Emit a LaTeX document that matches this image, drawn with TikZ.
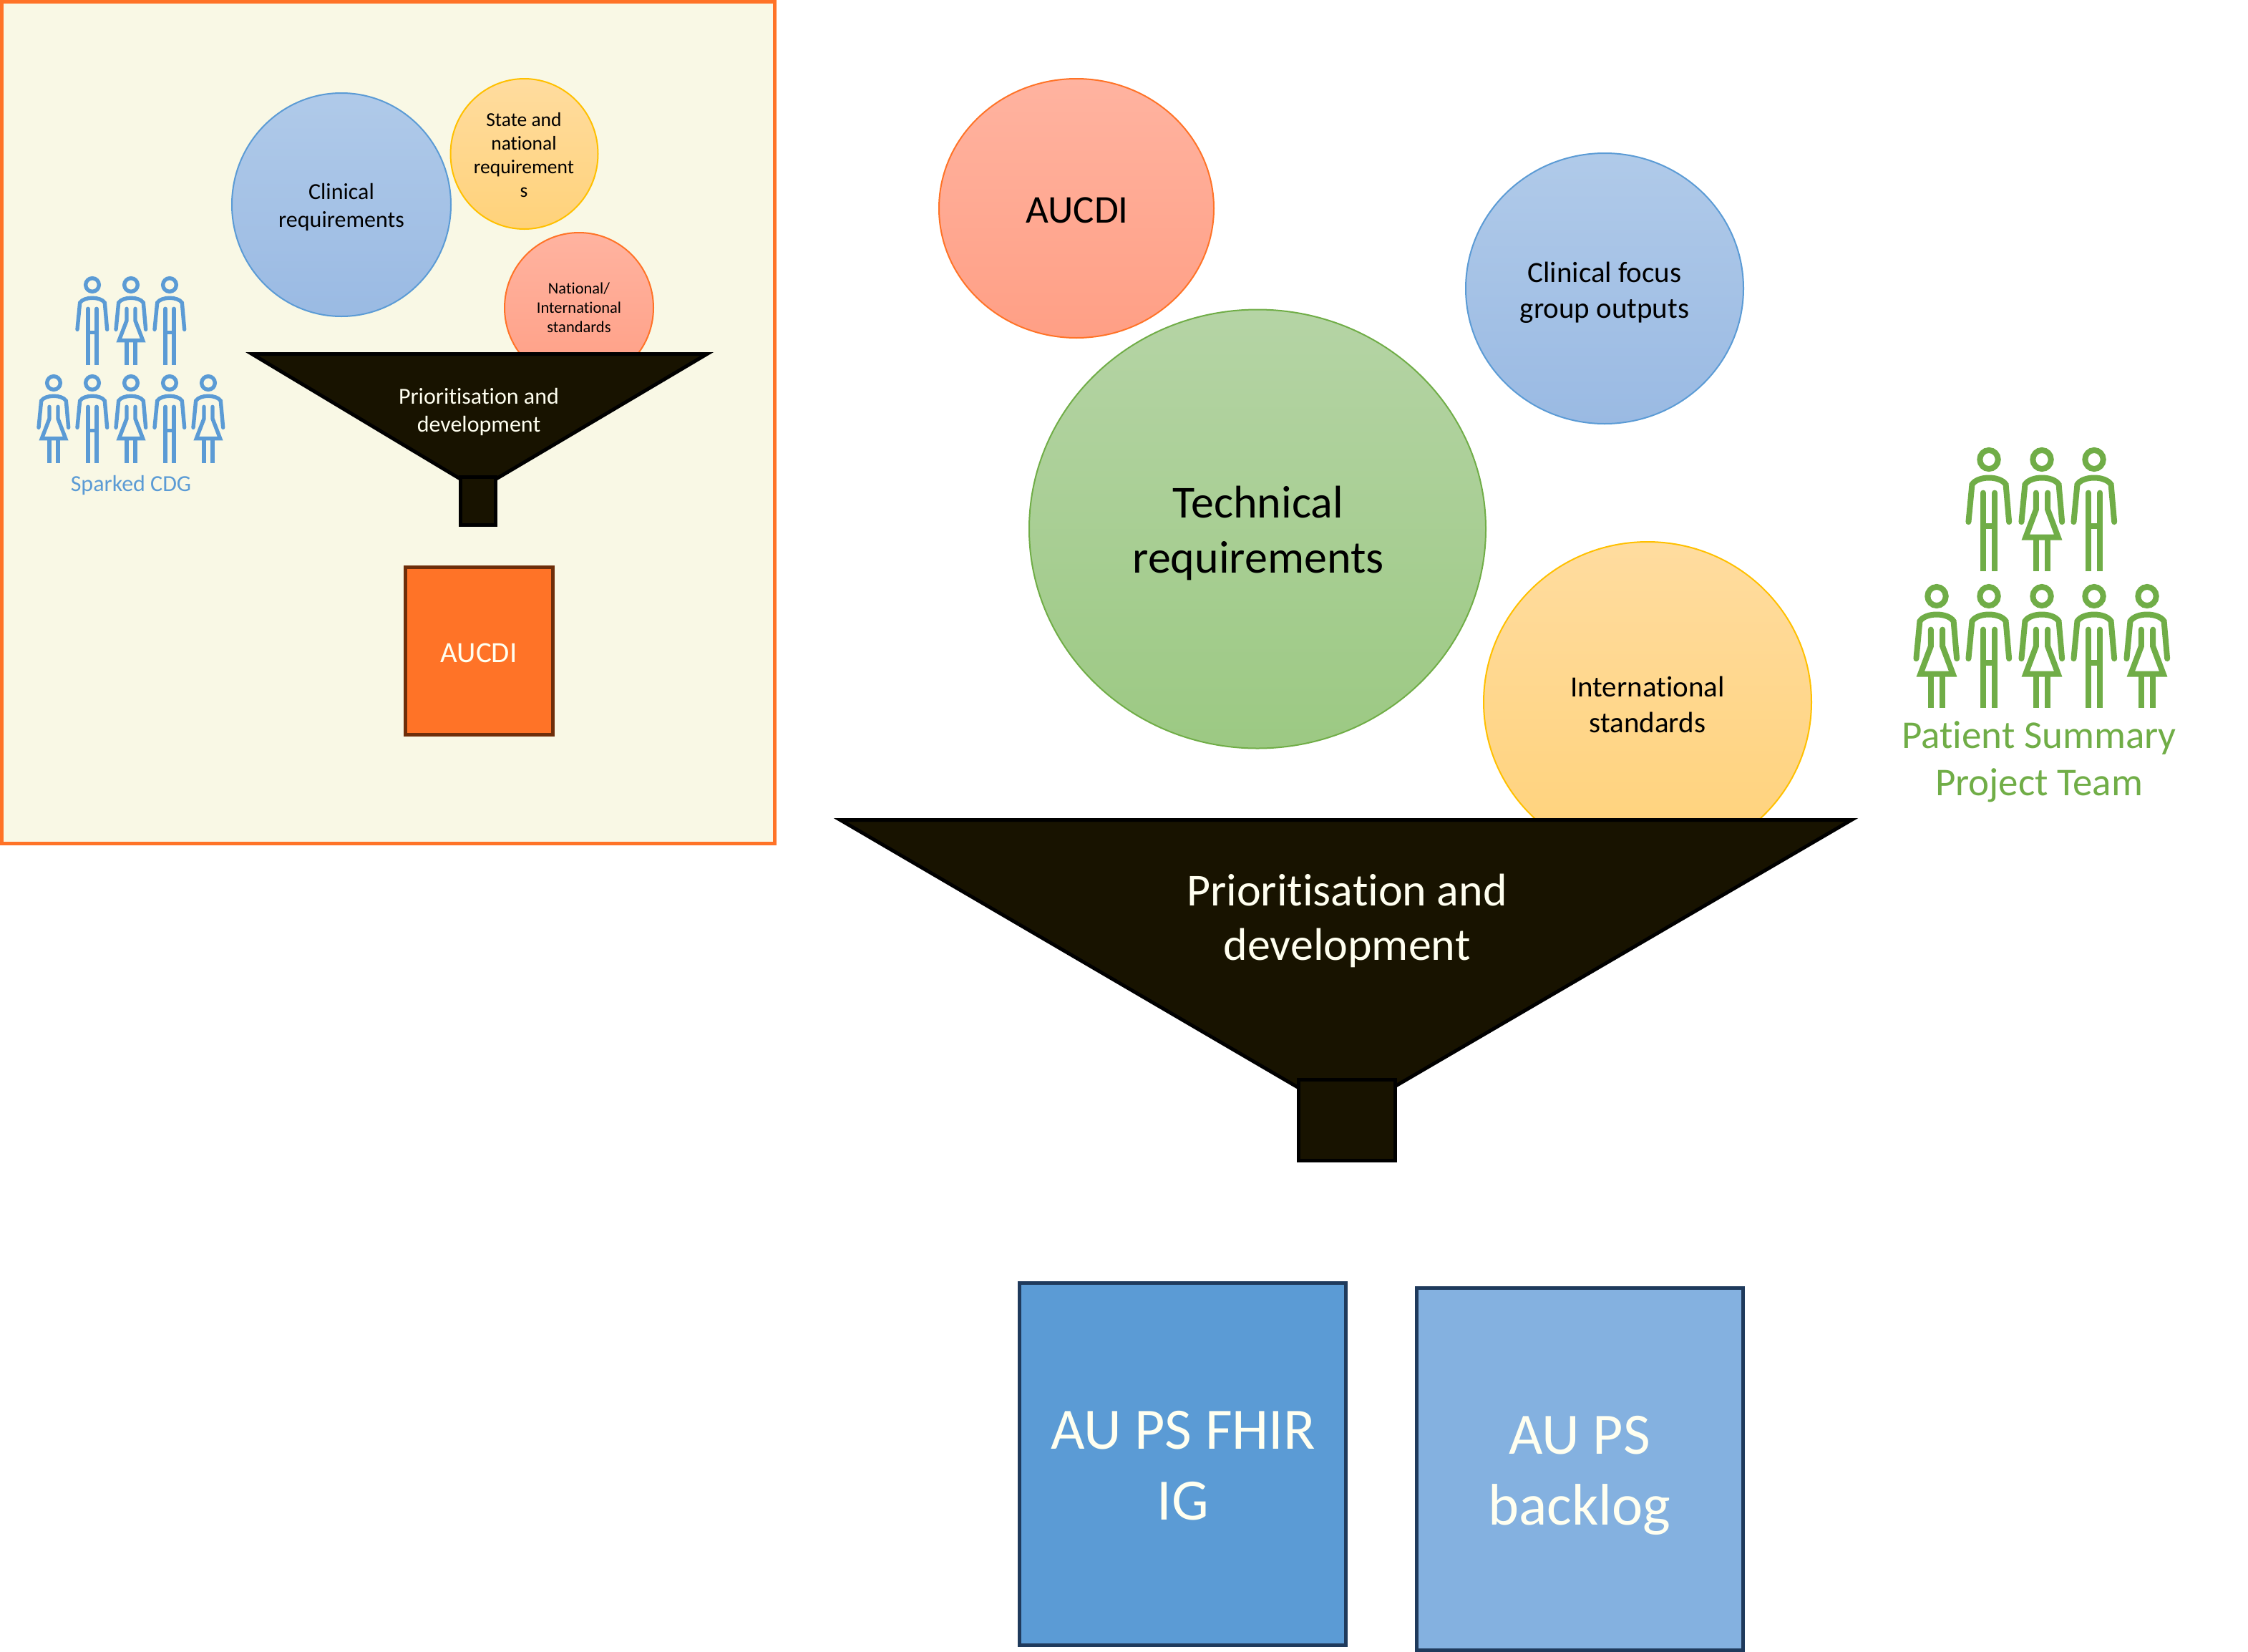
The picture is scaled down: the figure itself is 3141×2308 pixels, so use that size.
\documentclass[tikz,border=0pt]{standalone}
\usepackage{fontspec}
\setmainfont{Carlito}[Ligatures=NoCommon]
\usetikzlibrary{shapes.geometric}
\definecolor{panelfill}{HTML}{F9F8E5}
\definecolor{panelline}{HTML}{FF7327}
\definecolor{funnelfill}{HTML}{181300}
\definecolor{peopleblue}{HTML}{5B9BD5}
\definecolor{peoplegreen}{HTML}{70AD47}
\definecolor{cream}{HTML}{FFFFF0}
\definecolor{navy}{HTML}{1F3A5C}
\definecolor{brownline}{HTML}{6E2E0A}
\definecolor{bluetop}{HTML}{B0CAE9}
\definecolor{bluebot}{HTML}{9ABAE3}
\definecolor{redtop}{HTML}{FFB3A0}
\definecolor{redbot}{HTML}{FF9F85}
\definecolor{greentop}{HTML}{B5D4A5}
\definecolor{greenbot}{HTML}{9CC983}
\definecolor{yellowline}{HTML}{FFC000}
\definecolor{yellowtop}{HTML}{FFDC9F}
\definecolor{yellowbot}{HTML}{FFD27A}
\definecolor{lightbox}{HTML}{84B1E0}
\newcommand{\fs}[2]{\fontsize{#1}{#2}\selectfont}
\tikzset{
  x=1pt,y=-1pt,
  blob/.style={ellipse,inner sep=0pt,outer sep=0pt,line width=2pt},
  blobtext/.style={align=center,text=black,inner sep=0pt},
  blueblob/.style={blob,draw=peopleblue,top color=bluetop,bottom color=bluebot},
  redblob/.style={blob,draw=panelline,top color=redtop,bottom color=redbot},
  greenblob/.style={blob,draw=peoplegreen,top color=greentop,bottom color=greenbot},
  yellowblob/.style={blob,draw=yellowline,top color=yellowtop,bottom color=yellowbot},
  funnel/.style={fill=funnelfill,draw=black,line width=5pt,line join=miter},
  whitetext/.style={text=cream,align=center,inner sep=0pt},
  squarebox/.style={line width=5pt,rectangle,inner sep=0pt,outer sep=0pt},
  man/.pic={
    \draw[line cap=round] (0,0) circle[radius=28];
    \draw[line cap=round] (-63,187) -- (-52,75) .. controls (-35,48) and (35,48) .. (52,75) -- (62,187);
    \draw[line cap=round] (-18,100) -- (-18,200);
    \draw[line cap=round] (18,100) -- (18,200);
    \draw (-18,335) -- (-18,200) -- (18,200) -- (18,335);
  },
  woman/.pic={
    \draw[line cap=round] (0,0) circle[radius=28];
    \draw[line cap=round] (-63,187) -- (-52,75) .. controls (-35,48) and (35,48) .. (52,75) -- (62,187);
    \draw[line cap=round,line join=miter] (-18,100) -- (-18,150) -- (-50,233) -- (50,233) -- (18,150) -- (18,100);
    \draw (-18,233) -- (-18,335);
    \draw (18,233) -- (18,335);
  },
}
\begin{document}
\begin{tikzpicture}
\useasboundingbox (0,0) rectangle (3141,2308);
% panel
\draw[fill=panelfill,draw=panelline,line width=5pt] (2.5,2.5) rectangle (1082.5,1178.5);
% small blobs
\node[blueblob,minimum width=306pt,minimum height=312pt] (smallclin) at (477,286) {};
\node[blobtext,font=\fs{32}{39}] (smallclintext) at (477,289) {Clinical\\requirements};
\node[yellowblob,minimum width=206pt,minimum height=210pt] (smallstate) at (732.5,215) {};
\node[blobtext,font=\fs{27.5}{33}] (smallstatetext) at (732,217) {State and\\national\\requirement\\s};
\node[redblob,minimum width=208pt,minimum height=210pt] (smallnat) at (809,430) {};
\node[blobtext,font=\fs{22.5}{27}] (smallnattext) at (809,430) {National/\\International\\standards};
% small funnel
\coordinate (sf1) at (352,494.5);
\coordinate (sf2) at (988,494.5);
\coordinate (sf3) at (668,684);
\draw[funnel] (sf1) -- (sf2) -- (sf3) -- cycle;
\node[funnel,rectangle,minimum width=49pt,minimum height=67pt,inner sep=0pt,outer sep=0pt] (sneck) at (668,700) {};
\node[whitetext,font=\fs{32}{39}] (sftext) at (669,575) {Prioritisation and\\development};
\node[squarebox,draw=brownline,fill=panelline,minimum width=206pt,minimum height=234pt] (saucdi) at (669.5,909.5) {};
\node[whitetext,font=\fs{41}{48}] (saucditext) at (669,912) {AUCDI};
% small people
\begin{scope}[draw=peopleblue,line width=5.4pt]
\foreach \px/\py/\kind in {129/398/man,183/398/woman,237/398/man,75/535/woman,129/535/man,183/535/woman,237/535/man,291/535/woman}
  \pic[scale=0.3333] at (\px,\py) {\kind};
\end{scope}
\node[text=peopleblue,inner sep=0pt,font=\fs{32}{38}] (sparked) at (183,678) {Sparked CDG};
% large blobs
\node[redblob,minimum width=384pt,minimum height=362pt] (aucdi) at (1504,291) {};
\node[blobtext,font=\fs{55}{66}] (aucditext) at (1505,294) {AUCDI};
\node[blueblob,minimum width=388pt,minimum height=378pt] (clinfocus) at (2242,403) {};
\node[blobtext,font=\fs{41}{50}] (clinfocustext) at (2242,409) {Clinical focus\\group outputs};
\node[yellowblob,minimum width=458pt,minimum height=448pt] (intl) at (2302,981) {};
\node[blobtext,font=\fs{41}{50}] (intltext) at (2302,984) {International\\standards};
\node[greenblob,minimum width=638pt,minimum height=613pt] (tech) at (1757,739) {};
\node[blobtext,font=\fs{64}{77}] (techtext) at (1758,745) {Technical\\requirements};
% large funnel
\coordinate (lf1) at (1174,1145.5);
\coordinate (lf2) at (2587,1145.5);
\coordinate (lf3) at (1880,1558);
\draw[funnel] (lf1) -- (lf2) -- (lf3) -- cycle;
\node[funnel,rectangle,minimum width=135pt,minimum height=113pt,inner sep=0pt,outer sep=0pt] (lneck) at (1882,1565) {};
\node[whitetext,font=\fs{64}{76}] (lftext) at (1882,1286) {Prioritisation and\\development};
% output boxes
\node[squarebox,draw=navy,fill=peopleblue,minimum width=456pt,minimum height=506pt] (ig) at (1652.5,2045.5) {};
\node[whitetext,font=\fs{82}{99}] (igtext) at (1653,2048) {AU PS FHIR\\IG};
\node[squarebox,draw=navy,fill=lightbox,minimum width=456pt,minimum height=506pt] (backlog) at (2207,2052) {};
\node[whitetext,font=\fs{82}{99}] (backlogtext) at (2207,2061) {AU PS\\backlog};
% large people
\begin{scope}[draw=peoplegreen,line width=8pt]
\foreach \px/\py/\kind in {2779/642/man,2853/642/woman,2926/642/man,2706/833/woman,2779/833/man,2853/833/woman,2926/833/man,3000/833/woman}
  \pic[xscale=0.4535,yscale=0.466] at (\px,\py) {\kind};
\end{scope}
\node[text=peoplegreen,align=center,inner sep=0pt,font=\fs{55}{66}] (team) at (2849,1064) {Patient Summary\\Project Team};
\end{tikzpicture}
\end{document}
